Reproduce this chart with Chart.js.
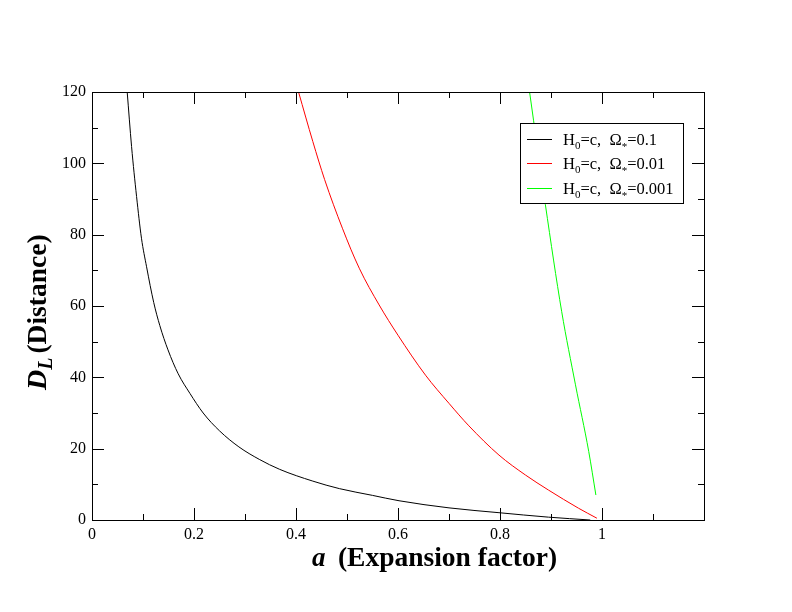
<!DOCTYPE html>
<html><head><meta charset="utf-8">
<script src="https://cdn.jsdelivr.net/npm/chart.js@4/dist/chart.umd.min.js"></script>
<style>html,body{margin:0;padding:0;background:#fff;}#wrap{width:792px;height:612px;}</style>
</head><body><div id="wrap"><canvas id="c" width="792" height="612"></canvas></div>
<script>
// ---- data ----
const aBlack = [0.065,0.069,0.0776,0.0874,0.097,0.107,0.121,0.133,0.149,0.169,0.192,0.218,0.25,0.288,0.328,0.368,0.433,0.485,0.55,0.602,0.70,0.798,0.895,0.977];
const dBlack = [127,120,104.7,90.7,79,71,61,54.5,47.7,41,35.5,30,25,20.5,17,14.2,10.9,8.8,6.9,5.4,3.4,2.05,0.8,0];
const aRed = [0.400,0.405,0.433,0.456,0.491,0.524,0.563,0.600,0.654,0.700,0.739,0.798,0.850,0.895,0.954,0.990];
const dRed = [122.5,120,106.1,95.5,81.8,70.6,60.3,51.8,40.6,32.7,26.4,18.2,12.6,8.4,3.3,0.5];
const aGreen = [0.855,0.858,0.889,0.921,0.948,0.974,0.988];
const dGreen = [123,120,88.4,58.4,37.9,19.2,7.0];
const omegaLabels = ['0.1','0.01','0.001'];
const seriesColors = ['#000000','#ff0000','#00ff00'];
const xTickLabels = ['0','0.2','0.4','0.6','0.8','1'];
const yTickLabels = ['0','20','40','60','80','100','120'];

const pts = (xs, ys) => xs.map((x,i)=>({x:x, y:ys[i]}));
const SERIF = "'Liberation Serif','DejaVu Serif',serif";

const framePlugin = {
  id:'frameTicks',
  afterDatasetsDraw(chart){
    const ctx = chart.ctx, ca = chart.chartArea, xs = chart.scales.x, ys = chart.scales.y;
    ctx.save();
    ctx.strokeStyle = '#000'; ctx.lineWidth = 1;
    const line=(x1,y1,x2,y2)=>{ctx.beginPath();ctx.moveTo(x1,y1);ctx.lineTo(x2,y2);ctx.stroke();};
    for(let i=0;i<=12;i++){
      const px = Math.round(xs.getPixelForValue(i/10))+0.5;
      const len = (i%2===0)?12:6;
      line(px,ca.bottom,px,ca.bottom-len);
      line(px,ca.top,px,ca.top+len);
    }
    for(let v=0;v<=120;v+=10){
      const py = Math.round(ys.getPixelForValue(v))+0.5;
      const len = (v%20===0)?12:6;
      line(ca.left,py,ca.left+len,py);
      line(ca.right,py,ca.right-len,py);
    }
    ctx.strokeRect(Math.round(ca.left)+0.5, Math.round(ca.top)+0.5, Math.round(ca.right-ca.left), Math.round(ca.bottom-ca.top));
    ctx.restore();
  }
};

const legendPlugin = {
  id:'customLegend',
  afterDatasetsDraw(chart){
    const ctx = chart.ctx;
    ctx.save();
    const bx=520.5, by=123.5, bw=163, bh=80;
    ctx.fillStyle='#fff'; ctx.fillRect(bx,by,bw,bh);
    ctx.strokeStyle='#000'; ctx.lineWidth=1; ctx.strokeRect(bx,by,bw,bh);
    chart.data.datasets.forEach((ds,i)=>{
      const y = 138.5 + i*24.7;
      ctx.strokeStyle = ds.borderColor; ctx.lineWidth=1;
      ctx.beginPath(); ctx.moveTo(527,Math.round(y)+0.5); ctx.lineTo(552,Math.round(y)+0.5); ctx.stroke();
      ctx.fillStyle='#000'; ctx.textBaseline='alphabetic'; ctx.textAlign='left';
      let x = 563; const base = y+6;
      const big = '16.5px '+SERIF, small = '11px '+SERIF;
      const put=(t,f,dy)=>{ctx.font=f; ctx.fillText(t,x,base+dy); x+=ctx.measureText(t).width;};
      put('H',big,0); put('0',small,4); put('=c,  \u03A9',big,0); put('*',small,5); put('='+omegaLabels[i],big,0);
    });
    ctx.restore();
  }
};

const titlePlugin = {
  id:'axisTitles',
  afterDraw(chart){
    const ctx = chart.ctx;
    ctx.save();
    ctx.fillStyle='#000'; ctx.textBaseline='alphabetic'; ctx.textAlign='left';
    // x title
    let x = 312;
    ctx.font = "italic bold 27px "+SERIF; ctx.fillText('a', x, 566); x += ctx.measureText('a').width;
    ctx.font = "bold 27.5px "+SERIF; x += ctx.measureText('  ').width*0.9; ctx.fillText('(Expansion factor)', x, 566);
    // y title
    ctx.translate(46, 390); ctx.rotate(-Math.PI/2);
    x = 0;
    ctx.font = "italic bold 28px "+SERIF; ctx.fillText('D', x, 0); x += ctx.measureText('D').width;
    ctx.font = "italic bold 20px "+SERIF; ctx.fillText('L', x, 6); x += ctx.measureText('L').width + 4;
    ctx.font = "bold 27.5px "+SERIF; ctx.fillText('(Distance)', x, 0);
    ctx.restore();
  }
};

const datasets = [
  {label:'H0=c, \u03A9*='+omegaLabels[0], data:pts(aBlack,dBlack), borderColor:seriesColors[0]},
  {label:'H0=c, \u03A9*='+omegaLabels[1], data:pts(aRed,dRed), borderColor:seriesColors[1]},
  {label:'H0=c, \u03A9*='+omegaLabels[2], data:pts(aGreen,dGreen), borderColor:seriesColors[2]},
].map(d=>Object.assign(d,{showLine:true,pointRadius:0,borderWidth:1,fill:false,cubicInterpolationMode:'monotone'}));

new Chart(document.getElementById('c'), {
  type:'scatter',
  data:{datasets},
  options:{
    responsive:false, animation:false, devicePixelRatio:1,
    layout:{padding:{top:92,right:88,left:0,bottom:0}},
    plugins:{legend:{display:false}, tooltip:{enabled:false}},
    scales:{
      x:{type:'linear', min:0, max:1.2,
        afterFit(s){s.height=92;},
        grid:{display:false, drawTicks:false}, border:{display:false},
        afterBuildTicks(s){ s.ticks = xTickLabels.map(t=>({value:parseFloat(t)})); },
        ticks:{padding:5, color:'#000', font:{family:SERIF, size:16}, maxRotation:0, autoSkip:false,
          callback:(v)=>{const i=xTickLabels.findIndex(t=>Math.abs(parseFloat(t)-v)<1e-9); return i>=0?xTickLabels[i]:'';}}
      },
      y:{type:'linear', min:0, max:120,
        afterFit(s){s.width=92;},
        grid:{display:false, drawTicks:false}, border:{display:false},
        afterBuildTicks(s){ s.ticks = yTickLabels.map(t=>({value:parseFloat(t)})); },
        ticks:{padding:6, color:'#000', font:{family:SERIF, size:16}, autoSkip:false,
          callback:(v)=>{const i=yTickLabels.findIndex(t=>Math.abs(parseFloat(t)-v)<1e-9); return i>=0?yTickLabels[i]:'';}}
      }
    }
  },
  plugins:[framePlugin, legendPlugin, titlePlugin]
});
</script></body></html>
